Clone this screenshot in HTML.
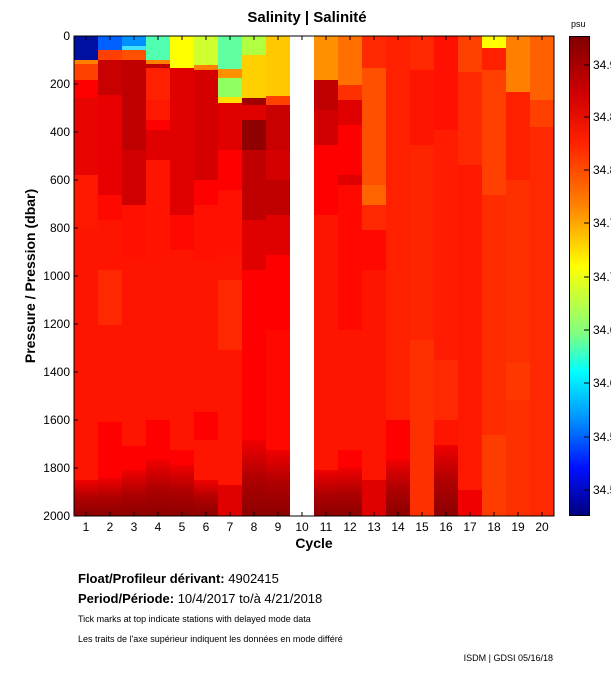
<!DOCTYPE html><html><head><style>body{margin:0;background:#fff;width:611px;height:675px;overflow:hidden;font-family:"Liberation Sans",sans-serif}</style></head><body>
<svg width="611" height="675" xmlns="http://www.w3.org/2000/svg" font-family="Liberation Sans, sans-serif">
<defs><linearGradient id="cb" x1="0" y1="0" x2="0" y2="1">
<stop offset="0" stop-color="#800000"/><stop offset="0.12" stop-color="#d00000"/><stop offset="0.22" stop-color="#ff2000"/><stop offset="0.35" stop-color="#ff8000"/><stop offset="0.48" stop-color="#ffff00"/><stop offset="0.62" stop-color="#80ff80"/><stop offset="0.7" stop-color="#00ffff"/><stop offset="0.8" stop-color="#0090ff"/><stop offset="0.9" stop-color="#0010ff"/><stop offset="1" stop-color="#000080"/></linearGradient>
<linearGradient id="dk" x1="0" y1="0" x2="0" y2="1"><stop offset="0" stop-color="#f00000"/><stop offset="0.5" stop-color="#b00000"/><stop offset="1" stop-color="#8c0000"/></linearGradient></defs>
<text x="307" y="22" text-anchor="middle" font-size="15" font-weight="bold">Salinity | Salinité</text>
<text x="571" y="27" font-size="9">psu</text>
<g shape-rendering="crispEdges">
<rect x="74" y="36" width="480" height="480" fill="#ff1400"/>
<!-- c1 -->
<g transform="translate(74,0)">
<rect y="36" width="24" height="24" fill="#0010a0"/><rect y="60" width="24" height="4" fill="#ff8000"/><rect y="64" width="24" height="16" fill="#ff4000"/><rect y="80" width="24" height="18" fill="#ff0000"/><rect y="98" width="24" height="77" fill="#e80400"/><rect y="175" width="24" height="55" fill="#ff1800"/><rect y="480" width="24" height="36" fill="url(#dk)"/></g>
<g transform="translate(98,0)">
<rect y="36" width="24" height="14" fill="#0060ff"/><rect y="50" width="24" height="10" fill="#ff4000"/><rect y="60" width="24" height="35" fill="#c80000"/><rect y="95" width="24" height="100" fill="#e80000"/><rect y="195" width="24" height="25" fill="#ff0800"/><rect y="270" width="24" height="55" fill="#ff2800"/><rect y="422" width="24" height="56" fill="#ff0000"/><rect y="478" width="24" height="38" fill="url(#dk)"/></g>
<g transform="translate(122,0)">
<rect y="36" width="24" height="10" fill="#0090ff"/><rect y="46" width="24" height="4" fill="#40e0ff"/><rect y="50" width="24" height="10" fill="#ff5000"/><rect y="60" width="24" height="90" fill="#c00000"/><rect y="150" width="24" height="55" fill="#d00000"/><rect y="205" width="24" height="53" fill="#ff1000"/><rect y="446" width="24" height="24" fill="#ff0000"/><rect y="470" width="24" height="46" fill="url(#dk)"/></g>
<g transform="translate(146,0)">
<rect y="36" width="24" height="24" fill="#50ffb0"/><rect y="60" width="24" height="4" fill="#ff8000"/><rect y="64" width="24" height="4" fill="#c00000"/><rect y="68" width="24" height="32" fill="#ff2000"/><rect y="100" width="24" height="20" fill="#ff1800"/><rect y="120" width="24" height="10" fill="#ff0000"/><rect y="130" width="24" height="30" fill="#e00000"/><rect y="420" width="24" height="40" fill="#ff0000"/><rect y="460" width="24" height="56" fill="url(#dk)"/></g>
<g transform="translate(170,0)">
<rect y="36" width="24" height="32" fill="#ffff00"/><rect y="68" width="24" height="147" fill="#e00000"/><rect y="215" width="24" height="35" fill="#ff0800"/><rect y="450" width="24" height="15" fill="#ff0000"/><rect y="465" width="24" height="51" fill="url(#dk)"/></g>
<g transform="translate(194,0)">
<rect y="36" width="24" height="29" fill="#d0ff30"/><rect y="65" width="24" height="5" fill="#ff8000"/><rect y="70" width="24" height="110" fill="#d40000"/><rect y="180" width="24" height="25" fill="#ff0000"/><rect y="205" width="24" height="55" fill="#ff1000"/><rect y="412" width="24" height="28" fill="#ff0000"/><rect y="480" width="24" height="36" fill="url(#dk)"/></g>
<g transform="translate(218,0)">
<rect y="36" width="24" height="33" fill="#60ffa0"/><rect y="69" width="24" height="9" fill="#ff9000"/><rect y="78" width="24" height="19" fill="#90ff60"/><rect y="97" width="24" height="6" fill="#ffe000"/><rect y="103" width="24" height="47" fill="#e00000"/><rect y="150" width="24" height="40" fill="#ff0000"/><rect y="190" width="24" height="65" fill="#ff1000"/><rect y="280" width="24" height="70" fill="#ff2800"/><rect y="485" width="24" height="31" fill="#e00000"/></g>
<g transform="translate(242,0)">
<rect y="36" width="24" height="19" fill="#b0ff40"/><rect y="55" width="24" height="43" fill="#ffd000"/><rect y="98" width="24" height="7" fill="#a00000"/><rect y="105" width="24" height="15" fill="#e00000"/><rect y="120" width="24" height="30" fill="#900000"/><rect y="150" width="24" height="70" fill="#c00000"/><rect y="220" width="24" height="50" fill="#e00000"/><rect y="270" width="24" height="170" fill="#ff0000"/><rect y="440" width="24" height="76" fill="url(#dk)"/></g>
<g transform="translate(266,0)">
<rect y="36" width="24" height="60" fill="#ffc800"/><rect y="96" width="24" height="9" fill="#ff4000"/><rect y="105" width="24" height="45" fill="#c80000"/><rect y="150" width="24" height="30" fill="#d40000"/><rect y="180" width="24" height="35" fill="#c00000"/><rect y="215" width="24" height="40" fill="#e00000"/><rect y="255" width="24" height="75" fill="#ff0000"/><rect y="330" width="24" height="120" fill="#ff0800"/><rect y="450" width="24" height="66" fill="url(#dk)"/></g>
<rect x="290" y="36" width="24" height="480" fill="#fff"/>
<g transform="translate(314,0)">
<rect y="36" width="24" height="44" fill="#ff9000"/><rect y="80" width="24" height="30" fill="#c00000"/><rect y="110" width="24" height="35" fill="#d00000"/><rect y="145" width="24" height="70" fill="#ff0000"/><rect y="470" width="24" height="46" fill="url(#dk)"/></g>
<g transform="translate(338,0)">
<rect y="36" width="24" height="49" fill="#ff7000"/><rect y="85" width="24" height="15" fill="#ff3000"/><rect y="100" width="24" height="25" fill="#e00000"/><rect y="125" width="24" height="50" fill="#ff0000"/><rect y="175" width="24" height="10" fill="#e00000"/><rect y="185" width="24" height="145" fill="#ff0800"/><rect y="450" width="24" height="18" fill="#ff0000"/><rect y="468" width="24" height="48" fill="url(#dk)"/></g>
<g transform="translate(362,0)">
<rect y="36" width="24" height="32" fill="#ff2800"/><rect y="68" width="24" height="117" fill="#ff5000"/><rect y="185" width="24" height="20" fill="#ff6400"/><rect y="205" width="24" height="25" fill="#ff2800"/><rect y="230" width="24" height="40" fill="#ff0800"/><rect y="480" width="24" height="36" fill="#e00000"/></g>
<g transform="translate(386,0)">
<rect y="36" width="24" height="384" fill="#ff2000"/><rect y="420" width="24" height="40" fill="#ff0000"/><rect y="460" width="24" height="56" fill="url(#dk)"/></g>
<g transform="translate(410,0)">
<rect y="36" width="24" height="34" fill="#ff2800"/><rect y="145" width="24" height="195" fill="#ff2400"/><rect y="340" width="24" height="176" fill="#ff3000"/></g>
<g transform="translate(434,0)">
<rect y="36" width="24" height="94" fill="#ff1000"/><rect y="130" width="24" height="230" fill="#ff1c00"/><rect y="360" width="24" height="60" fill="#ff2800"/><rect y="445" width="24" height="71" fill="url(#dk)"/></g>
<g transform="translate(458,0)">
<rect y="36" width="24" height="36" fill="#ff4000"/><rect y="72" width="24" height="93" fill="#ff2800"/><rect y="165" width="24" height="325" fill="#ff1800"/><rect y="490" width="24" height="26" fill="#f00000"/></g>
<g transform="translate(482,0)">
<rect y="36" width="24" height="12" fill="#ffff00"/><rect y="48" width="24" height="22" fill="#ff2000"/><rect y="70" width="24" height="125" fill="#ff4000"/><rect y="195" width="24" height="240" fill="#ff2c00"/><rect y="435" width="24" height="81" fill="#ff3c00"/></g>
<g transform="translate(506,0)">
<rect y="36" width="24" height="56" fill="#ff8000"/><rect y="92" width="24" height="88" fill="#ff2000"/><rect y="180" width="24" height="336" fill="#ff3000"/><rect y="363" width="24" height="37" fill="#ff3800"/></g>
<g transform="translate(530,0)">
<rect y="36" width="24" height="64" fill="#ff6000"/><rect y="100" width="24" height="27" fill="#ff4000"/><rect y="127" width="24" height="389" fill="#ff2800"/></g>
</g>
<rect x="74" y="36" width="480" height="480" fill="none" stroke="#000" stroke-width="1"/>
<g stroke="#000">
<path d="M86 36v4M110 36v4M134 36v4M158 36v4M182 36v4M206 36v4M230 36v4M254 36v4M278 36v4M302 36v4M326 36v4M350 36v4M374 36v4M398 36v4M422 36v4M446 36v4M470 36v4M494 36v4M518 36v4M542 36v4"/>
<path d="M86 516v-4M110 516v-4M134 516v-4M158 516v-4M182 516v-4M206 516v-4M230 516v-4M254 516v-4M278 516v-4M302 516v-4M326 516v-4M350 516v-4M374 516v-4M398 516v-4M422 516v-4M446 516v-4M470 516v-4M494 516v-4M518 516v-4M542 516v-4"/>
<path d="M74 36h4M74 84h4M74 132h4M74 180h4M74 228h4M74 276h4M74 324h4M74 372h4M74 420h4M74 468h4M74 516h4"/>
</g>
<g font-size="12" text-anchor="end">
<text x="70" y="40">0</text><text x="70" y="88">200</text><text x="70" y="136">400</text><text x="70" y="184">600</text><text x="70" y="232">800</text><text x="70" y="280">1000</text><text x="70" y="328">1200</text><text x="70" y="376">1400</text><text x="70" y="424">1600</text><text x="70" y="472">1800</text><text x="70" y="520">2000</text>
</g>
<g font-size="12" text-anchor="middle">
<text x="86" y="531">1</text><text x="110" y="531">2</text><text x="134" y="531">3</text><text x="158" y="531">4</text><text x="182" y="531">5</text><text x="206" y="531">6</text><text x="230" y="531">7</text><text x="254" y="531">8</text><text x="278" y="531">9</text><text x="302" y="531">10</text><text x="326" y="531">11</text><text x="350" y="531">12</text><text x="374" y="531">13</text><text x="398" y="531">14</text><text x="422" y="531">15</text><text x="446" y="531">16</text><text x="470" y="531">17</text><text x="494" y="531">18</text><text x="518" y="531">19</text><text x="542" y="531">20</text>
</g>
<text x="314" y="548" text-anchor="middle" font-size="14" font-weight="bold">Cycle</text>
<text transform="translate(35,276) rotate(-90)" text-anchor="middle" font-size="14" font-weight="bold">Pressure / Pression (dbar)</text>
<rect x="569.5" y="36.5" width="20" height="479" fill="url(#cb)" stroke="#000"/>
<g stroke="#000"><path d="M584 65h5M584 117h5M584 170h5M584 223h5M584 277h5M584 330h5M584 383h5M584 437h5M584 490h5"/></g>
<g font-size="12"><text x="593" y="69">34.9</text><text x="593" y="121">34.8</text><text x="593" y="174">34.8</text><text x="593" y="227">34.7</text><text x="593" y="281">34.7</text><text x="593" y="334">34.6</text><text x="593" y="387">34.6</text><text x="593" y="441">34.5</text><text x="593" y="494">34.5</text></g>
<text x="78" y="583" font-size="13"><tspan font-weight="bold">Float/Profileur dérivant:</tspan> 4902415</text>
<text x="78" y="603" font-size="13"><tspan font-weight="bold">Period/Période:</tspan> 10/4/2017  to/à  4/21/2018</text>
<text x="78" y="622" font-size="9">Tick marks at top indicate stations with delayed mode data</text>
<text x="78" y="642" font-size="9">Les traits de l'axe supérieur indiquent les données en mode différé</text>
<text x="553" y="661" font-size="9" text-anchor="end">ISDM | GDSI  05/16/18</text>
</svg></body></html>
